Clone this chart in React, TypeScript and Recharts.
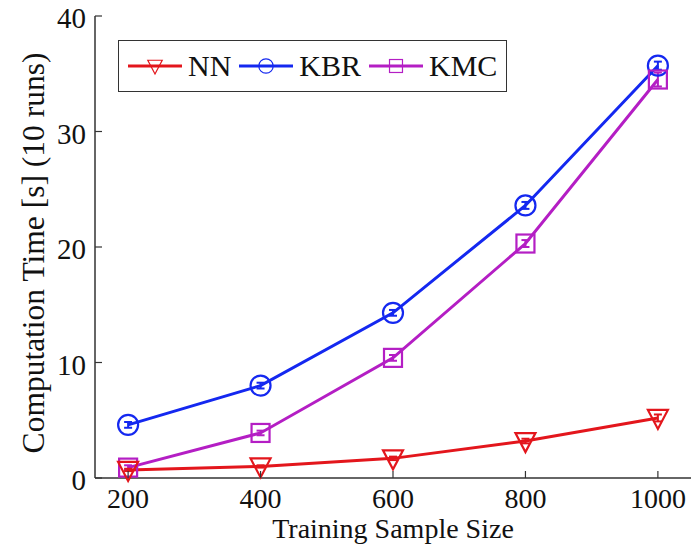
import React from 'react';
import { LineChart, Line, XAxis, YAxis, Legend, ErrorBar, Label } from 'recharts';

// values
const sampleSizes = [200, 400, 600, 800, 1000];
const nnTime = [0.7, 1.0, 1.7, 3.2, 5.2];
const kbrTime = [4.6, 8.0, 14.3, 23.6, 35.7];
const kmcTime = [0.9, 3.9, 10.4, 20.3, 34.5];
const nnErr = [0.1, 0.1, 0.15, 0.2, 0.3];
const kbrErr = [0.25, 0.25, 0.25, 0.3, 0.35];
const kmcErr = [0.2, 0.2, 0.25, 0.3, 0.6];
const xTicks = [200, 400, 600, 800, 1000];
const yTicks = [0, 10, 20, 30, 40];
const seriesOrder = ['NN', 'KBR', 'KMC'];

const data = sampleSizes.map((n, i) => ({
  n,
  NN: nnTime[i],
  KBR: kbrTime[i],
  KMC: kmcTime[i],
  nnErr: nnErr[i],
  kbrErr: kbrErr[i],
  kmcErr: kmcErr[i],
}));

const FONT = '"Liberation Serif", "DejaVu Serif", serif';
const AXIS = '#333';
const RED = '#e3161c';
const BLUE = '#1428f0';
const PURPLE = '#b41ec4';

const Marker = ({ shape, cx, cy, color, s = 1, w = 2.2 }: any) => {
  if (shape === 'tri')
    return (
      <polygon
        points={`${cx - 10 * s},${cy - 8 * s} ${cx + 10 * s},${cy - 8 * s} ${cx},${cy + 11 * s}`}
        fill="none"
        stroke={color}
        strokeWidth={w}
      />
    );
  if (shape === 'circle') return <circle cx={cx} cy={cy} r={10 * s} fill="none" stroke={color} strokeWidth={w} />;
  return <rect x={cx - 9 * s} y={cy - 9 * s} width={18 * s} height={18 * s} fill="none" stroke={color} strokeWidth={w} />;
};

const shapes: Record<string, string> = { NN: 'tri', KBR: 'circle', KMC: 'square' };

const dotFor = (shape: string, color: string) => (p: any) => (
  <g key={`${shape}-${p.index}`}>
    <Marker shape={shape} cx={p.cx} cy={p.cy} color={color} />
  </g>
);

// inward tick marks, matlab style
const BottomTick = ({ x, y, payload }: any) => (
  <g>
    <line x1={x} y1={y} x2={x} y2={y - 7} stroke={AXIS} strokeWidth={1.2} />
    <text x={x} y={y + 30} textAnchor="middle" fontFamily={FONT} fontSize={28} fill="#111">
      {payload.value}
    </text>
  </g>
);
const LeftTick = ({ x, y, payload }: any) => (
  <g>
    <line x1={x} y1={y} x2={x + 7} y2={y} stroke={AXIS} strokeWidth={1.2} />
    <text x={x - 9} y={y + 12} textAnchor="end" fontFamily={FONT} fontSize={29} fill="#111">
      {payload.value}
    </text>
  </g>
);
const TopTick = ({ x, y }: any) => <line x1={x} y1={y} x2={x} y2={y + 7} stroke={AXIS} strokeWidth={1.2} />;
const RightTick = ({ x, y }: any) => <line x1={x} y1={y} x2={x - 7} y2={y} stroke={AXIS} strokeWidth={1.2} />;

const YTitle = ({ viewBox }: any) => {
  const cx = 33;
  const cy = viewBox.y + viewBox.height / 2 + 6;
  return (
    <text
      x={cx}
      y={cy}
      transform={`rotate(-90 ${cx} ${cy})`}
      textAnchor="middle"
      dominantBaseline="central"
      fontFamily={FONT}
      fontSize={31.5}
      fill="#111"
    >
      Computation Time [s] (10 runs)
    </text>
  );
};

const LegendBox = ({ payload }: any) => {
  const items = [...(payload || [])].sort(
    (a: any, b: any) => seriesOrder.indexOf(a.value) - seriesOrder.indexOf(b.value)
  );
  return (
    <div
      style={{
        display: 'flex',
        alignItems: 'center',
        border: `1.5px solid ${AXIS}`,
        background: '#fff',
        height: 50,
        padding: '0 9px',
        fontFamily: FONT,
        fontSize: 30,
        color: '#111',
      }}
    >
      {items.map((e: any, i: number) => (
        <div key={e.value} style={{ display: 'flex', alignItems: 'center', marginLeft: i ? 8 : 0 }}>
          <svg width={54} height={30}>
            <line x1={0} y1={15} x2={54} y2={15} stroke={e.color} strokeWidth={3} />
            <Marker shape={shapes[e.value]} cx={27} cy={15} color={e.color} s={0.72} w={1.2} />
          </svg>
          <span style={{ marginLeft: 6 }}>{e.value}</span>
        </div>
      ))}
    </div>
  );
};

export default function App() {
  return (
    <div style={{ position: 'absolute', left: 0, top: 0, background: '#fff' }}>
      <LineChart width={694} height={550} data={data} margin={{ top: 16, right: 3, bottom: 0, left: 0 }}>
        <XAxis
          dataKey="n"
          type="number"
          domain={[150, 1050]}
          ticks={xTicks}
          height={72}
          tickLine={false}
          tickSize={0}
          tickMargin={0}
          axisLine={{ stroke: AXIS, strokeWidth: 1.5 }}
          tick={<BottomTick />}
        >
          <Label value="Training Sample Size" position="insideBottom" offset={12} fontFamily={FONT} fontSize={28} fill="#111" />
        </XAxis>
        <XAxis
          xAxisId="top"
          dataKey="n"
          type="number"
          orientation="top"
          domain={[150, 1050]}
          ticks={xTicks}
          height={0}
          tickLine={false}
          tickSize={0}
          tickMargin={0}
          axisLine={{ stroke: AXIS, strokeWidth: 1.5 }}
          tick={<TopTick />}
        />
        <YAxis
          type="number"
          domain={[0, 40]}
          ticks={yTicks}
          width={95}
          tickLine={false}
          tickSize={0}
          tickMargin={0}
          axisLine={{ stroke: AXIS, strokeWidth: 1.5 }}
          tick={<LeftTick />}
          label={<YTitle />}
        />
        <YAxis
          yAxisId="right"
          orientation="right"
          type="number"
          domain={[0, 40]}
          ticks={yTicks}
          width={0}
          tickLine={false}
          tickSize={0}
          tickMargin={0}
          axisLine={{ stroke: AXIS, strokeWidth: 1.5 }}
          tick={<RightTick />}
        />
        <Legend
          layout="vertical"
          align="center"
          verticalAlign="middle"
          content={<LegendBox />}
          wrapperStyle={{ position: 'absolute', left: 118, top: 40, width: 'auto' }}
        />
        <Line
          dataKey="KBR"
          name="KBR"
          stroke={BLUE}
          strokeWidth={3}
          dot={dotFor('circle', BLUE)}
          activeDot={false}
          isAnimationActive={false}
        >
          <ErrorBar dataKey="kbrErr" width={4} stroke={BLUE} strokeWidth={2} direction="y" />
        </Line>
        <Line
          dataKey="KMC"
          name="KMC"
          stroke={PURPLE}
          strokeWidth={3}
          dot={dotFor('square', PURPLE)}
          activeDot={false}
          isAnimationActive={false}
        >
          <ErrorBar dataKey="kmcErr" width={4} stroke={PURPLE} strokeWidth={2} direction="y" />
        </Line>
        <Line
          dataKey="NN"
          name="NN"
          stroke={RED}
          strokeWidth={3}
          dot={dotFor('tri', RED)}
          activeDot={false}
          isAnimationActive={false}
        >
          <ErrorBar dataKey="nnErr" width={4} stroke={RED} strokeWidth={2} direction="y" />
        </Line>
      </LineChart>
    </div>
  );
}
